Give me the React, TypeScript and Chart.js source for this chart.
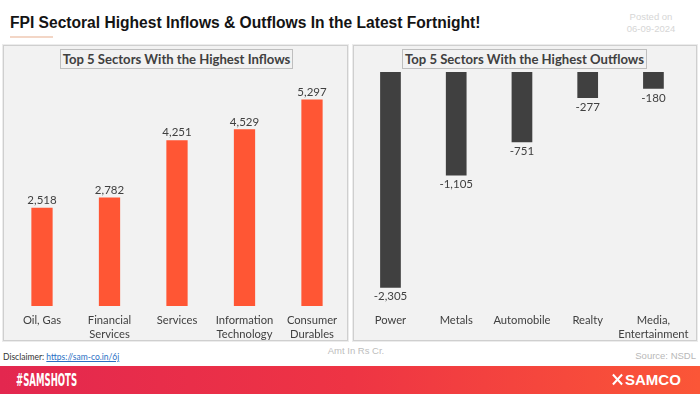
import React, { useEffect, useRef } from 'react';
import { Chart, registerables } from 'chart.js';

Chart.register(...registerables);

const inflowSectors: (string | string[])[] = ['Oil, Gas', ['Financial', 'Services'], 'Services', ['Information', 'Technology'], ['Consumer', 'Durables']];
const inflowValues = [2518, 2782, 4251, 4529, 5297];
const outflowSectors: (string | string[])[] = ['Power', 'Metals', 'Automobile', 'Realty', ['Media,', 'Entertainment']];
const outflowValues = [-2305, -1105, -751, -277, -180];

const inflowTitle = 'Top 5 Sectors With the Highest Inflows';
const outflowTitle = 'Top 5 Sectors With the Highest Outflows';
const mainTitle = 'FPI Sectoral Highest Inflows & Outflows In the Latest Fortnight!';

const TEXT = '#404040';

const valueLabels = {
  id: 'valueLabels',
  afterDatasetsDraw(chart: any) {
    const ctx = chart.ctx;
    const meta = chart.getDatasetMeta(0);
    const data = chart.data.datasets[0].data as number[];
    ctx.save();
    ctx.font = '11.5px Lato';
    ctx.fillStyle = TEXT;
    ctx.textAlign = 'center';
    ctx.textBaseline = 'middle';
    meta.data.forEach((bar: any, i: number) => {
      const v = data[i];
      const y = v >= 0 ? bar.y - 7.5 : bar.y + 9;
      ctx.fillText(v.toLocaleString('en-US'), bar.x, y);
    });
    ctx.restore();
  },
};

type PanelProps = {
  labels: (string | string[])[];
  values: number[];
  color: string;
  min: number;
  max: number;
  padL: number;
  padR: number;
  left: number;
  width: number;
};

function BarChart({ labels, values, color, min, max, padL, padR, left, width }: PanelProps) {
  const ref = useRef<HTMLCanvasElement | null>(null);
  useEffect(() => {
    if (!ref.current) return;
    const chart = new Chart(ref.current, {
      type: 'bar',
      data: {
        labels,
        datasets: [
          {
            data: values,
            backgroundColor: color,
            barPercentage: 0.315,
            categoryPercentage: 1,
          },
        ],
      },
      options: {
        animation: false,
        responsive: false,
        maintainAspectRatio: false,
        layout: { padding: { left: padL, right: padR, top: 26, bottom: 0 } },
        plugins: {
          legend: { display: false },
          tooltip: { enabled: false },
          title: { display: false },
        },
        scales: {
          x: {
            grid: { display: false, drawTicks: false },
            border: { display: false },
            ticks: {
              color: TEXT,
              font: { family: 'Lato', size: 11.2, lineHeight: 1.25 },
              padding: 7,
              maxRotation: 0,
              minRotation: 0,
              autoSkip: false,
            },
            afterFit: (axis: any) => {
              axis.height = 34;
            },
          },
          y: { display: false, min, max },
        },
      } as any,
      plugins: [valueLabels],
    });
    return () => chart.destroy();
  }, []);
  return (
    <canvas
      ref={ref}
      width={width}
      height={294}
      style={{ position: 'absolute', left, top: 46, width, height: 294 }}
    />
  );
}

const abs = (s: React.CSSProperties): React.CSSProperties => ({ position: 'absolute', ...s });

export default function App() {
  const panel = (left: number, width: number): React.CSSProperties =>
    abs({
      left,
      top: 45,
      width,
      height: 296,
      boxSizing: 'border-box',
      border: '1px solid #cfcfcf',
      boxShadow: '0 0 0 1px #ececec',
      background: '#f2f2f2',
    });
  const titleBox = (left: number, width: number): React.CSSProperties =>
    abs({
      left,
      top: 49,
      width,
      height: 20,
      boxSizing: 'border-box',
      border: '1px solid #bfbfbf',
      background: '#f2f2f2',
      color: TEXT,
      font: 'bold 13.1px Lato',
      lineHeight: '18px',
      textAlign: 'center',
      whiteSpace: 'nowrap',
      overflow: 'visible',
    });
  return (
    <div style={abs({ left: 0, top: 0, width: 700, height: 394, background: '#ffffff', overflow: 'hidden', fontFamily: 'Lato' })}>
      <div
        style={abs({
          left: 10,
          top: 14.5,
          font: 'bold 15.6px "Liberation Sans", Arial, sans-serif',
          lineHeight: '16px',
          color: '#141414',
          whiteSpace: 'nowrap',
        })}
      >
        {mainTitle}
      </div>
      <div style={abs({ left: 10, top: 36, width: 43, height: 1.5, background: '#f3d6c6' })} />
      <div
        style={abs({
          left: 611,
          top: 11,
          width: 80,
          textAlign: 'center',
          font: '9.5px "Liberation Sans", Arial, sans-serif',
          lineHeight: '12px',
          color: '#d6d6d6',
        })}
      >
        Posted on
        <br />
        06-09-2024
      </div>

      <div style={panel(3, 345)} />
      <div style={panel(353, 344)} />

      <BarChart labels={inflowSectors} values={inflowValues} color="#ff5634" min={0} max={6000} padL={4.25} padR={1.25} left={4} width={343} />
      <BarChart labels={outflowSectors} values={outflowValues} color="#404040" min={-2500} max={0} padL={3.6} padR={4.6} left={354} width={342} />

      <div style={titleBox(60, 233)}>{inflowTitle}</div>
      <div style={titleBox(402, 245)}>{outflowTitle}</div>

      <div style={abs({ left: 3, top: 351, font: '8.5px Lato', lineHeight: '12px', color: '#333', whiteSpace: 'nowrap' })}>
        Disclaimer:{' '}
        <span style={{ color: '#2a6fc4', textDecoration: 'underline' }}>https://sam-co.in/6j</span>
      </div>
      <div
        style={abs({
          left: 306,
          top: 345,
          width: 100,
          textAlign: 'center',
          font: '9.5px "Liberation Sans", Arial, sans-serif',
          lineHeight: '12px',
          color: '#bdbdbd',
        })}
      >
        Amt In Rs Cr.
      </div>
      <div
        style={abs({
          right: 4,
          top: 350,
          font: '9.5px "Liberation Sans", Arial, sans-serif',
          lineHeight: '12px',
          color: '#b8b8b8',
          whiteSpace: 'nowrap',
        })}
      >
        Source: NSDL
      </div>

      <div style={abs({ left: 0, top: 366, width: 700, height: 28, background: 'linear-gradient(90deg, #e3274f 0%, #ee3444 50%, #fb5637 100%)' })} />
      <div
        style={abs({
          left: 16,
          top: 370,
          font: 'bold 17px "Liberation Sans Narrow", "DejaVu Sans Condensed", sans-serif',
          lineHeight: '20px',
          color: '#ffffff',
          whiteSpace: 'nowrap',
          transform: 'scaleX(0.56)',
          transformOrigin: 'left center',
        })}
      >
        #SAMSHOTS
      </div>
      <svg style={abs({ left: 612, top: 373, width: 11, height: 13 })} viewBox="0 0 12 13">
        <path d="M1 1 L6 6.5 L1 12 M11 1 L6 6.5 L11 12" stroke="#ffffff" strokeWidth="2.2" fill="none" />
      </svg>
      <div
        style={abs({
          left: 625,
          top: 370,
          font: 'bold 15px "Liberation Sans", Arial, sans-serif',
          lineHeight: '20px',
          color: '#ffffff',
          whiteSpace: 'nowrap',
        })}
      >
        SAMCO
      </div>
    </div>
  );
}
